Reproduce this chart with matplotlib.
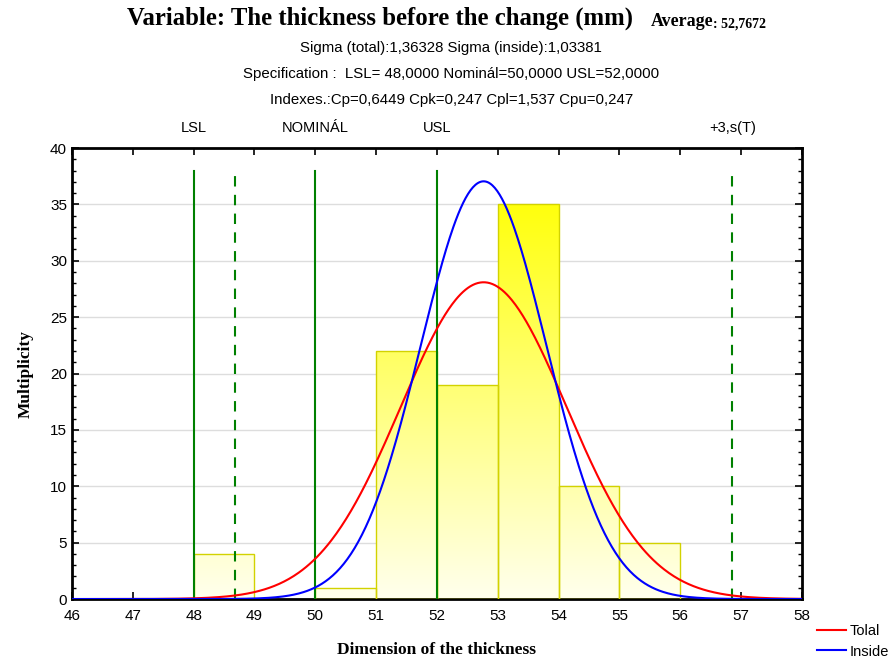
import numpy as np
import matplotlib
matplotlib.use("Agg")
import matplotlib.pyplot as plt
from matplotlib.colors import LinearSegmentedColormap
from matplotlib.patches import Rectangle
from matplotlib.ticker import MultipleLocator

plt.rcParams["font.family"] = ["Liberation Sans", "DejaVu Sans"]

# histogram bins (left edges, width 1) and counts
bin_left = [48, 50, 51, 52, 53, 54, 55]
counts = [4, 1, 22, 19, 35, 10, 5]
bin_width = 1.0

# statistics shown in the header
mean = 52.7672
sigma_total = 1.36328
sigma_inside = 1.03381
lsl, nominal, usl = 48.0, 50.0, 52.0
spec_lines = [lsl, nominal, usl]
spec_labels = ["LSL", "NOMINÁL", "USL"]
sigma_lines = [mean - 3 * sigma_total, mean + 3 * sigma_total]
line_top = 38


def normal_curve(x, mu, s, n):
    return n * bin_width / (s * np.sqrt(2 * np.pi)) * np.exp(-0.5 * ((x - mu) / s) ** 2)


fig = plt.figure(figsize=(8.92, 6.59), dpi=100)
ax = fig.add_axes([0.0807, 0.091, 0.8183, 0.6844])

ax.set_xlim(46, 58)
ax.set_ylim(0, 40)

ax.yaxis.grid(True, color="#dddddd", lw=1)
ax.set_axisbelow(True)

# bars with a vertical yellow gradient
cmap = LinearSegmentedColormap.from_list("yel", [(1, 1, 0.93), (1, 1, 0.05)])
grad = np.linspace(0, 1, 256).reshape(-1, 1)
for left, c in zip(bin_left, counts):
    rect = Rectangle((left, 0), bin_width, c, facecolor="none",
                     edgecolor="#d2d200", lw=1, zorder=3)
    ax.add_patch(rect)
    img = ax.imshow(grad, cmap=cmap, origin="lower", aspect="auto",
                    extent=(left, left + bin_width, 0, 35),
                    vmin=0, vmax=1, zorder=2)
    img.set_clip_path(rect)
ax.set_xlim(46, 58)
ax.set_ylim(0, 40)

for x in spec_lines:
    ax.plot([x, x], [0, line_top], color="#008000", lw=1.5, zorder=4)
for x in sigma_lines:
    ax.plot([x, x], [0, line_top], color="#008000", lw=1.5,
            ls=(0, (5, 4)), zorder=4)

n_total = sum(counts)
xs = np.linspace(46, 58, 600)
ax.plot(xs, normal_curve(xs, mean, sigma_total, n_total), color="red",
        lw=1.5, zorder=5, label="Tolal")
ax.plot(xs, normal_curve(xs, mean, sigma_inside, n_total), color="blue",
        lw=1.5, zorder=5, label="Inside")

tr = ax.get_xaxis_transform()
for x, lab in zip(spec_lines, spec_labels):
    ax.text(x, 1.045, lab, transform=tr, ha="center", va="center", fontsize=10.5)
ax.text(sigma_lines[1], 1.045, "+3,s(T)", transform=tr, ha="center",
        va="center", fontsize=10.5)

ax.xaxis.set_major_locator(MultipleLocator(1))
ax.yaxis.set_major_locator(MultipleLocator(5))
ax.yaxis.set_minor_locator(MultipleLocator(1))
ax.tick_params(axis="both", which="major", direction="in", length=5,
               width=1.2, labelsize=11, top=True, right=True)
ax.tick_params(axis="y", which="minor", direction="in", length=3,
               width=1, right=True)
ax.tick_params(axis="x", pad=7)
for sp in ax.spines.values():
    sp.set_linewidth(2)

ax.set_xlabel("Dimension of the thickness", family="Liberation Serif",
              fontweight="bold", fontsize=12.5, labelpad=14)
ax.set_ylabel("Multiplicity", family="Liberation Serif",
              fontweight="bold", fontsize=12.5, labelpad=12)

ax.legend(loc="lower left", bbox_to_anchor=(1.012, -0.145), frameon=False,
          fontsize=10.5, handlelength=2.0, handletextpad=0.3,
          labelspacing=0.45, borderaxespad=0)

title = fig.text(0.142, 0.962, "Variable: The thickness before the change (mm)",
                 family="Liberation Serif", fontweight="bold", fontsize=17.8,
                 ha="left", va="baseline")
avg_txt = ax.annotate("Average", xy=(1, 0), xycoords=title,
                      xytext=(13, 0), textcoords="offset points",
                      family="Liberation Serif", fontweight="bold",
                      fontsize=13, va="bottom", annotation_clip=False)
ax.annotate(": 52,7672", xy=(1, 0), xycoords=avg_txt, xytext=(0, 0),
            textcoords="offset points", family="Liberation Serif",
            fontweight="bold", fontsize=10, va="bottom", annotation_clip=False)

sub_lines = [
    "Sigma (total):1,36328 Sigma (inside):1,03381",
    "Specification :  LSL= 48,0000 Nominál=50,0000 USL=52,0000",
    "Indexes.:Cp=0,6449 Cpk=0,247 Cpl=1,537 Cpu=0,247",
]
for i, s in enumerate(sub_lines):
    fig.text(0.506, 0.927 - i * 0.0395, s, fontsize=10.8, ha="center",
             va="center", family=["Liberation Sans Narrow", "Liberation Sans"])

fig.savefig("out.png", dpi=100)
